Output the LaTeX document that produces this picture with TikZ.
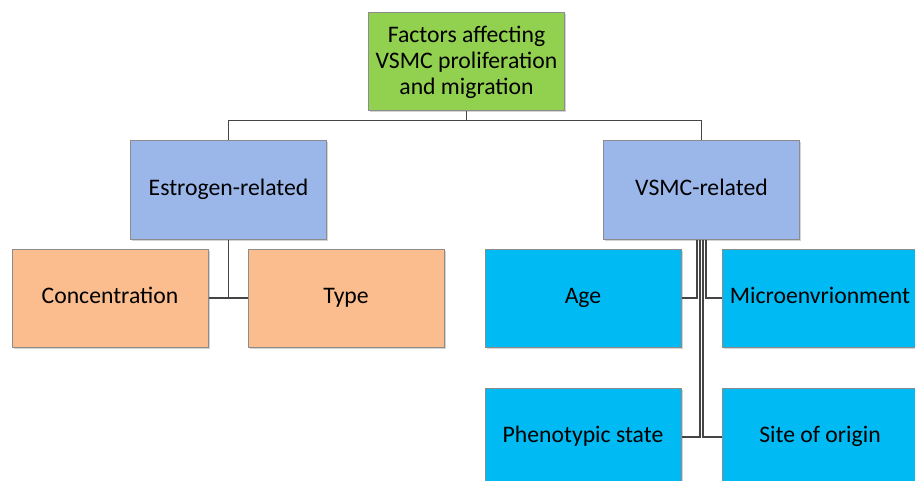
\documentclass[tikz,border=0pt]{standalone}
\usepackage{fontspec}
\setmainfont{Carlito}
\usetikzlibrary{shadows}
\definecolor{cgreen}{HTML}{92D050}
\definecolor{cblue}{HTML}{9BB7EA}
\definecolor{corange}{HTML}{FBBC8E}
\definecolor{ccyan}{HTML}{00BAF4}
\definecolor{cline}{HTML}{454545}
\begin{document}
\begin{tikzpicture}[x=1pt,y=1pt,
  box/.style={draw=black!45, line width=1pt, minimum width=196pt, minimum height=98pt,
    inner sep=0pt, align=center, font=\fontsize{23.7}{26}\selectfont,
    drop shadow={shadow xshift=1.5pt, shadow yshift=-1.5pt, opacity=0.35}},
  oneline/.style={text height=16pt, text depth=5pt},
  topbox/.style={box, fill=cgreen},
  midbox/.style={box, oneline, fill=cblue},
  orbox/.style={box, oneline, fill=corange},
  cybox/.style={box, oneline, fill=ccyan},
  conn/.style={draw=cline, line width=1.4pt}]
\useasboundingbox (0,0) rectangle (915,-481);
\begin{scope}
\clip (0,0) rectangle (915,-481);
\node[topbox] (top) at (466.5,-62) {Factors affecting\\VSMC proliferation\\and migration};
\node[midbox] (est) at (228.5,-190) {Estrogen-related};
\node[midbox] (vsmc) at (701.5,-190) {VSMC-related};
\node[orbox] (conc) at (110,-298) {Concentration};
\node[orbox] (type) at (346,-298) {Type};
\node[cybox] (age) at (583,-298) {Age};
\node[cybox] (micro) at (820,-298) {Microenvrionment};
\node[cybox] (pheno) at (583,-437) {Phenotypic state};
\node[cybox] (site) at (820,-437) {Site of origin};
\coordinate (j) at ([yshift=-9pt]top.south);
\draw[conn] (top.south) -- (j);
\draw[conn] (est.north) |- (j) -| (vsmc.north);
\draw[conn] (est.south) -- (est.south |- conc.east);
\draw[conn] (conc.east) -- (type.west);
\draw[conn] ([xshift=-4.5pt]vsmc.south) |- (age.east);
\draw[conn] ([xshift=-1.5pt]vsmc.south) |- (pheno.east);
\draw[conn] ([xshift=1.5pt]vsmc.south) |- (site.west);
\draw[conn] ([xshift=4.5pt]vsmc.south) |- (micro.west);
\end{scope}
\end{tikzpicture}
\end{document}
